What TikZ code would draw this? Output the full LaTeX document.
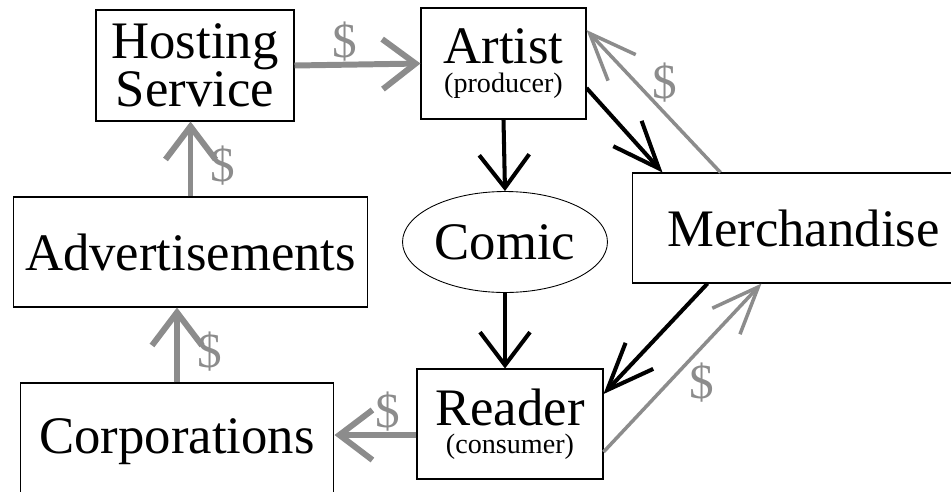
\documentclass[tikz,border=0pt]{standalone}
\usepackage{fontspec}
\setmainfont{Liberation Serif}
\newfontfamily\timesish{Liberation Serif}
\usetikzlibrary{arrows.meta,shapes.geometric}

\definecolor{cashgray}{RGB}{140,140,140}
\tikzset{
  box/.style={draw, line width=0.6pt, inner sep=0pt, minimum height=22mm,
    align=center, font=\timesish\fontsize{30}{16}\selectfont},
  flat/.style={-{Straight Barb[length=6.6mm, width=10mm]}},
  slant/.style={-{Straight Barb[length=9.4mm, width=7.6mm]}},
  flow/.style={line width=2.3pt, black},
  pay/.style={line width=3.4pt, cashgray},
  payd/.style={line width=2pt, cashgray},
  dollar/.style={text=cashgray, inner sep=0pt, font=\timesish\fontsize{28}{28}\selectfont}
}
\newcommand{\sm}[1]{{\fontsize{16}{16}\selectfont #1}}

\begin{document}
\begin{tikzpicture}[x=0.02cm, y=-0.02cm]
\useasboundingbox (0,0) rectangle (951,491);
\clip (0,0) rectangle (951,491);

\node[box] (host) at (195,65.5) [minimum width=39.6mm, minimum height=22.2mm,
  font=\timesish\fontsize{30}{21.5}\selectfont] {Hosting\\Service};
\node[box] (artist) at (503.5,63.5) [minimum width=33mm, minimum height=22.2mm] {Artist\\\sm{(producer)}};
\node[box] (adv) at (190.5,252) [minimum width=71mm] {Advertisements};
\node[draw, ellipse, line width=0.5pt, inner sep=0pt, minimum width=41mm, minimum height=20.2mm,
  font=\timesish\fontsize{30}{30}\selectfont] (comic) at (505,242) {Comic};
\node[box] (merch) at (803.5,228) [minimum width=68.6mm] {Merchandise};
\node[box] (corp) at (177,442) [minimum width=62.8mm, minimum height=23.6mm] {Corporations};
\node[box] (reader) at (510,424) [minimum width=37.2mm] {Reader\\\sm{(consumer)}};

% money
\draw[pay][flat] (host.east) to node[dollar, pos=0.4, yshift=4.6mm] {\$} (artist.west);
\draw[pay][flat] (adv.north) to node[dollar, pos=0.41, xshift=6.4mm] {\$} (adv.north |- host.south);
\draw[pay][flat] (corp.north) to node[dollar, pos=0.41, xshift=6.6mm] {\$} (corp.north |- adv.south);
\draw[pay][flat] ([yshift=-2.2mm]reader.west) to node[dollar, pos=0.35, yshift=4.6mm] {\$} ([yshift=-2.2mm]reader.west -| corp.east);
\draw[payd][slant] ([xshift=17.8mm]merch.north west) to node[dollar, pos=0.53, xshift=3.1mm, yshift=2.8mm] {\$} ([yshift=6.7mm]artist.east);
\draw[payd][slant] ([yshift=-5.6mm]reader.east) to node[dollar, pos=0.51, xshift=3.6mm, yshift=-3.2mm] {\$} ([xshift=26mm]merch.south west);

% goods
\draw[flow][flat] (artist.south) to (comic.north);
\draw[flow][flat] (comic.south) to (comic.south |- reader.north);
\draw[flow][slant] ([yshift=-4.9mm]artist.east) to ([xshift=6.2mm]merch.north west);
\draw[flow][slant] ([xshift=15.2mm]merch.south west) to ([yshift=6mm]reader.east);
\end{tikzpicture}
\end{document}
